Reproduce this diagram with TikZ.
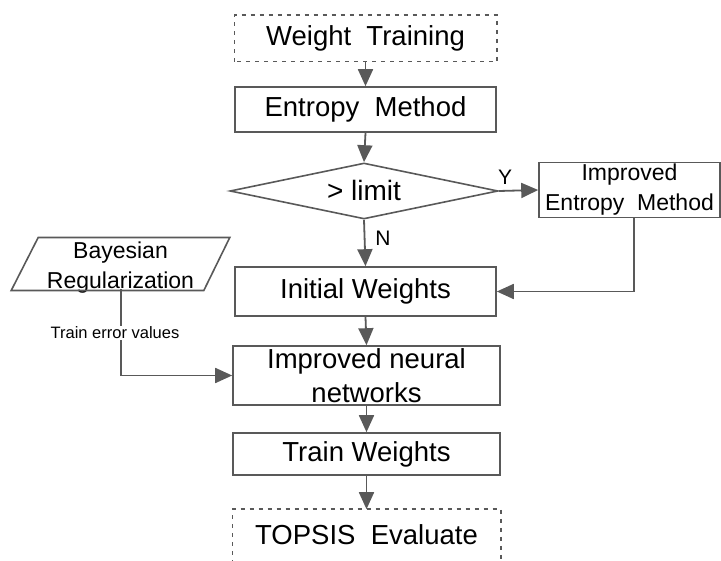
\documentclass[tikz,border=0pt]{standalone}
\usepackage{fontspec}
\setmainfont{Liberation Sans}
\usetikzlibrary{arrows.meta,shapes.geometric,calc}
\definecolor{ln}{RGB}{89,89,89}
\tikzset{
  box/.style={draw=ln, line width=1.6pt, rectangle, inner sep=0pt, align=center, font=\fontsize{27.5}{34}\selectfont},
  dbox/.style={box, draw=none},
  flow/.style={draw=ln, line width=1.8pt, -{Triangle[length=17pt,width=15pt]}},
  dsh/.style={draw=ln, line width=1.4pt, dash pattern=on 4pt off 5pt},
  lbl/.style={font=\fontsize{21}{24}\selectfont, inner sep=0pt}
}
\begin{document}
\begin{tikzpicture}[x=1pt,y=-1pt]
\useasboundingbox (0,0) rectangle (721,561);
% nodes
\node[dbox, minimum width=261pt, minimum height=45pt] (wt) at (365.5,38.5) {Weight\ \ Training};
\draw[dsh] (wt.south west) rectangle (wt.north east);
\node[box, minimum width=261pt, minimum height=45pt] (em) at (365.5,109.5) {Entropy\ \ Method};
\node[box, shape=diamond, aspect=4.8, minimum width=268pt, minimum height=56pt, font=\fontsize{28}{30}\selectfont] (dia) at (364,191) {\raisebox{1pt}{> limit}};
\node[box, minimum width=181pt, minimum height=55pt, font=\fontsize{23}{30}\selectfont] (iem) at (629.5,190) {Improved\\Entropy\ \ Method};
\node[box, minimum width=261pt, minimum height=49pt] (iw) at (365.5,291.5) {Initial Weights};
\node[box, minimum width=267pt, minimum height=59pt] (inn) at (366.5,375.5) {Improved neural\\networks};
\node[box, minimum width=267pt, minimum height=42pt] (tw) at (366.5,454) {Train Weights};
\node[dbox, minimum width=267pt, minimum height=53pt] (tp) at (366.5,536.5) {\raisebox{2pt}[\height][\depth]{TOPSIS\ \ Evaluate}};
\draw[dsh] (tp.south west) -- (tp.north west) -- (tp.north east) -- (tp.south east);
\node[dbox, minimum width=217pt, minimum height=50pt, font=\fontsize{23}{30}\selectfont] (bay) at (120.5,264) {\raisebox{-4pt}[\height][\depth]{\parbox{200pt}{\centering Bayesian\\Regularization}}};
\draw[draw=ln, line width=1.6pt] (bay.south west) -- ($(bay.north west)+(27,0)$) -- (bay.north east) -- ($(bay.south east)-(26,0)$) -- cycle;
\coordinate (bout) at (121,289);
\coordinate (iemout) at (634,217.5);
% connectors
\draw[flow] (wt.south) -- (em.north);
\draw[flow] (em.south) -- (dia.north);
\draw[flow] (dia.east) -- (iem.west);
\draw[flow] (dia.south) -- (iw.north);
\draw[flow] (iemout) -- (iemout |- iw.east) -- (iw.east);
\draw[flow] (iw.south) -- (inn.north);
\draw[flow] (bout) -- (bout |- inn.west) -- (inn.west);
\draw[flow] (inn.south) -- (tw.north);
\draw[flow] (tw.south) -- (tp.north);
% labels
\node[lbl] (ylab) at (505,177) {Y};
\node[lbl] (nlab) at (383,238) {N};
\node[fill=white, inner sep=1pt, font=\fontsize{16.5}{18}\selectfont] (tev) at (115,333) {Train error values};
\end{tikzpicture}
\end{document}
